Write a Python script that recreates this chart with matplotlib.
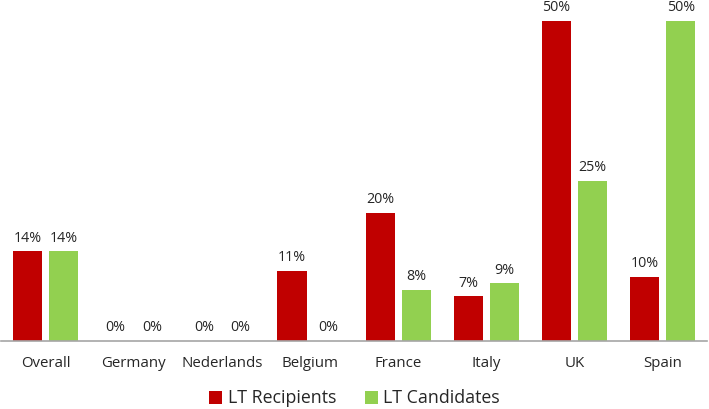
import matplotlib.pyplot as plt
import numpy as np

categories = ["Overall", "Germany", "Nederlands", "Belgium", "France", "Italy", "UK", "Spain"]
recipients = [14, 0, 0, 11, 20, 7, 50, 10]
candidates = [14, 0, 0, 0, 8, 9, 25, 50]
series_names = ["LT Recipients", "LT Candidates"]

red = "#C00000"
green = "#92D050"
plt.rcParams["font.family"] = ["Open Sans", "DejaVu Sans"]

fig = plt.figure(figsize=(7.09, 4.09), dpi=100)
ax = fig.add_axes([0.002, 0.166, 0.995, 0.783])

x = np.arange(len(categories))
w = 0.33
b1 = ax.bar(x - 0.205, recipients, w, color=red, label=series_names[0])
b2 = ax.bar(x + 0.205, candidates, w, color=green, label=series_names[1])

for bars, vals in ((b1, recipients), (b2, candidates)):
    for rect, v in zip(bars, vals):
        ax.text(rect.get_x() + rect.get_width() / 2, v + 0.9, f"{v}%",
                ha="center", va="bottom", fontsize=10.3, color="#262626", clip_on=False)

ax.set_xlim(-0.5, len(categories) - 0.5)
ax.set_ylim(0, 50)
ax.set_yticks([])
ax.set_xticks(x)
ax.set_xticklabels(categories, fontsize=10.8, color="#262626")
ax.tick_params(axis="x", length=0, pad=11)
for s in ["top", "right", "left"]:
    ax.spines[s].set_visible(False)
ax.spines["bottom"].set_color("#A6A6A6")
ax.spines["bottom"].set_linewidth(1.2)

leg = fig.legend(loc="lower center", bbox_to_anchor=(0.5, -0.035), ncol=2, frameon=False,
                 fontsize=12.8, handlelength=0.75, handleheight=0.75, handletextpad=0.3,
                 columnspacing=1.6)
for t in leg.get_texts():
    t.set_color("#262626")

fig.savefig("out.png", dpi=100)
